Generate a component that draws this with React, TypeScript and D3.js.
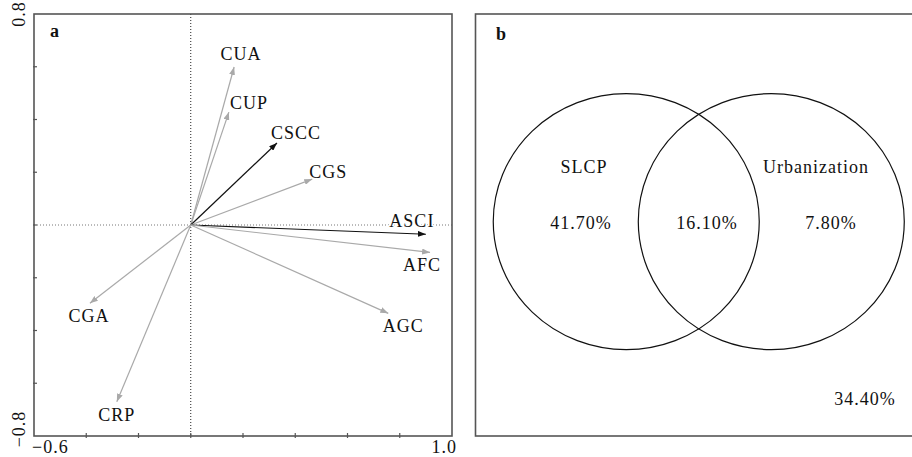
import React from 'react';
import * as d3 from 'd3';

// ---- data: panel a (RDA-style loadings) ----
const variables = ["CUA", "CUP", "CSCC", "CGS", "ASCI", "AFC", "AGC", "CGA", "CRP"];
const axis1 = [0.166, 0.146, 0.33, 0.465, 0.90, 0.916, 0.756, -0.386, -0.283];
const axis2 = [0.599, 0.428, 0.311, 0.174, -0.035, -0.104, -0.335, -0.297, -0.67];
const explanatory = ["CSCC", "ASCI"]; // drawn in black

const xTicks = [-0.6, -0.4, -0.2, 0, 0.2, 0.4, 0.6, 0.8, 1.0];
const yTicks = [-0.8, -0.6, -0.4, -0.2, 0, 0.2, 0.4, 0.6, 0.8];

// ---- data: panel b (variance partitioning) ----
const vennSets = ["SLCP", "Urbanization"];
const vennParts = ["41.70%", "16.10%", "7.80%"]; // SLCP only, shared, urbanization only
const unexplained = "34.40%";

// label nudges (px) from arrow tip
const labelNudge: Record<string, [number, number]> = {
    CUA: [7, -7], CUP: [20, -3], CSCC: [19, -4], CGS: [16, -1],
    ASCI: [-14, -7], AFC: [-8, 19], AGC: [15, 19], CGA: [-1, 19], CRP: [0, 19],
};

const FONT = "'Liberation Serif', 'Times New Roman', serif";
const GREY = "#a9a9a9";
const DARK = "#111";
const FRAME = "#555";

export default function App() {
    // panel a frame
    const left = 34, right = 452, top = 14, bottom = 436;
    const x = d3.scaleLinear().domain([-0.6, 1.0]).range([left, right]);
    const y = d3.scaleLinear().domain([-0.8, 0.8]).range([bottom, top]);

    // panel b frame
    const bLeft = 475.5, bRight = 915;
    const vx = d3.scaleLinear().domain([0, 1]).range([bLeft, bRight]);
    const vy = d3.scaleLinear().domain([0, 1]).range([top, bottom]);
    const vennCx = [0.343, 0.673]; // unit coords within panel b
    const vennCy = 0.492;
    const rx = 133, ry = 128;

    const txt = { fontFamily: FONT, fontSize: 18, letterSpacing: 1, fill: "#111" } as const;

    return (
        <svg width={912} height={457} style={{ position: 'absolute', left: 0, top: 0, background: '#fff' }}>
            <defs>
                <marker id="headGrey" markerUnits="userSpaceOnUse" markerWidth={9} markerHeight={6}
                    refX={8} refY={3} orient="auto">
                    <path d="M0,0 L8,3 L0,6 Z" fill={GREY} />
                </marker>
                <marker id="headDark" markerUnits="userSpaceOnUse" markerWidth={9} markerHeight={6}
                    refX={8} refY={3} orient="auto">
                    <path d="M0,0 L8,3 L0,6 Z" fill={DARK} />
                </marker>
            </defs>

            {/* ---------- panel a ---------- */}
            <line x1={x(0)} x2={x(0)} y1={top} y2={bottom} stroke="#222" strokeWidth={1} strokeDasharray="1,2" />
            <line x1={left} x2={right} y1={y(0)} y2={y(0)} stroke="#777" strokeWidth={1} strokeDasharray="1,2" />

            {variables.map((v, i) => (
                <line key={v} x1={x(0)} y1={y(0)} x2={x(axis1[i])} y2={y(axis2[i])}
                    stroke={explanatory.includes(v) ? DARK : GREY} strokeWidth={1.2}
                    markerEnd={explanatory.includes(v) ? "url(#headDark)" : "url(#headGrey)"} />
            ))}

            {variables.map((v, i) => (
                <text key={v} x={x(axis1[i]) + labelNudge[v][0]} y={y(axis2[i]) + labelNudge[v][1]}
                    textAnchor="middle" {...txt}
                    stroke="#fff" strokeWidth={3} paintOrder="stroke">{v}</text>
            ))}

            <rect x={left} y={top} width={right - left} height={bottom - top} fill="none" stroke={FRAME} strokeWidth={1.6} />
            {xTicks.slice(1, -1).map(t => (
                <line key={'xt' + t} x1={x(t)} x2={x(t)} y1={bottom - 3} y2={bottom + 2} stroke={FRAME} strokeWidth={1.2} />
            ))}
            {yTicks.slice(1, -1).map(t => (
                <line key={'yt' + t} x1={left - 1} x2={left + 3} y1={y(t)} y2={y(t)} stroke={FRAME} strokeWidth={1.2} />
            ))}

            <text x={left - 2} y={453} textAnchor="start" {...txt}>{d3.format(".1f")(xTicks[0]).replace("-", "\u2212")}</text>
            <text x={right + 5} y={453} textAnchor="end" {...txt}>{d3.format(".1f")(xTicks[xTicks.length - 1])}</text>
            <text transform={`translate(25,${top}) rotate(-90)`} textAnchor="middle" {...txt}>
                {d3.format(".1f")(yTicks[yTicks.length - 1])}
            </text>
            <text transform={`translate(25,${bottom - 7}) rotate(-90)`} textAnchor="middle" {...txt}>
                {d3.format(".1f")(yTicks[0]).replace("-", "\u2212")}
            </text>

            <text x={50} y={37} fontFamily={FONT} fontSize={18} fontWeight="bold" fill="#111">a</text>

            {/* ---------- panel b ---------- */}
            <rect x={bLeft} y={top} width={bRight - bLeft} height={bottom - top} fill="none" stroke={FRAME} strokeWidth={1.6} />
            {vennCx.map((c, i) => (
                <ellipse key={'e' + i} cx={vx(c)} cy={vy(vennCy)} rx={rx} ry={ry} fill="none" stroke="#111" strokeWidth={1.2} />
            ))}
            <text x={584} y={173} textAnchor="middle" {...txt}>{vennSets[0]}</text>
            <text x={816} y={173} textAnchor="middle" {...txt}>{vennSets[1]}</text>
            <text x={581} y={229} textAnchor="middle" {...txt}>{vennParts[0]}</text>
            <text x={707} y={229} textAnchor="middle" {...txt}>{vennParts[1]}</text>
            <text x={831} y={229} textAnchor="middle" {...txt}>{vennParts[2]}</text>
            <text x={865} y={405} textAnchor="middle" {...txt}>{unexplained}</text>

            <text x={496} y={40} fontFamily={FONT} fontSize={18} fontWeight="bold" fill="#111">b</text>
        </svg>
    );
}
